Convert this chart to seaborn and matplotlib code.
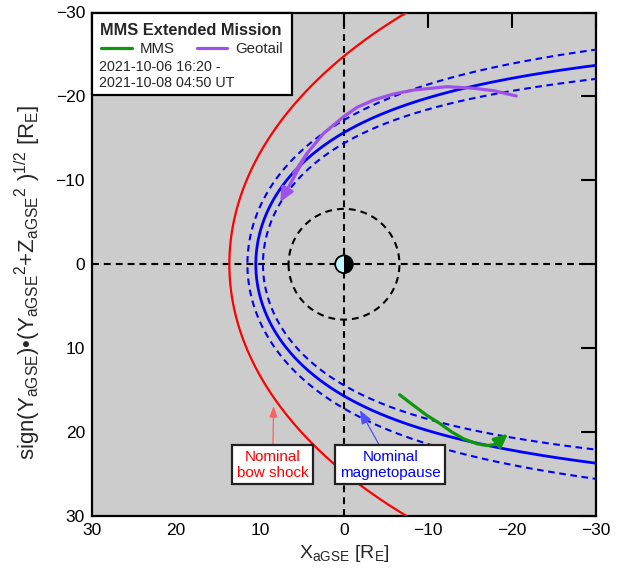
import numpy as np
import pandas as pd
import matplotlib
matplotlib.use("Agg")
import matplotlib.pyplot as plt
import matplotlib.transforms as mtransforms
from matplotlib.patches import Wedge, Circle, Rectangle
from matplotlib.lines import Line2D
import seaborn as sns

# ---- spacecraft tracks (aGSE, Earth radii) ----
mms_x = [-6.62, -8.29, -9.88, -11.46, -12.86, -14.24, -15.83, -17.02, -18.01, -18.81, -19.52]
mms_r = [15.55, 16.83, 18.02, 19.01, 20.01, 20.80, 21.40, 21.60, 21.48, 21.00, 20.20]

geotail_x = [-20.51, -17.81, -15.43, -12.26, -8.29, -5.90, -3.52, -1.55, 0.05, 2.43, 4.40, 5.99, 7.58]
geotail_r = [-20.05, -20.68, -20.97, -21.16, -20.76, -20.29, -19.57, -18.70, -17.58, -15.60, -13.21, -10.82, -7.43]

# ---- nominal boundary models ----
mp_r0 = 10.5          # magnetopause standoff distance
mp_alpha = 0.58       # magnetopause flaring exponent
mp_outer = 11.5       # dashed envelope, outer standoff distance
mp_inner = 9.65       # dashed envelope, inner standoff distance
bs_nose = 13.65       # bow shock nose distance
bs_a = 49.45          # bow shock conic coefficients: r^2 = a*d + b*d^2, d = nose - x
bs_b = -0.322
geo_radius = 6.6      # geosynchronous orbit

axis_ticks = [30, 20, 10, 0, -10, -20, -30]
title_text = "MMS Extended Mission"
date_lines = ["2021-10-06 16:20 -", "2021-10-08 04:50 UT"]

MMS_COLOR = "#0f960f"
GEO_COLOR = "#9d52ea"

sns.set_style("white")
plt.rcParams["font.family"] = ["Liberation Sans", "DejaVu Sans"]
plt.rcParams["mathtext.fontset"] = "custom"
plt.rcParams["mathtext.rm"] = "Liberation Sans"
plt.rcParams["mathtext.it"] = "Liberation Sans:italic"
plt.rcParams["mathtext.bf"] = "Liberation Sans:bold"

W, H = 619, 575
fig = plt.figure(figsize=(W / 100, H / 100), dpi=100)
ax = fig.add_axes([92 / W, 1 - 516 / H, 504 / W, 503.5 / H])
ax.set_facecolor("#cccccc")
# pixel coordinates measured from the top-left corner of the figure
P = mtransforms.Affine2D().scale(1 / W, -1 / H).translate(0, 1) + fig.transFigure


def shue(r0, alpha):
    th = np.linspace(-2.75, 2.75, 800)
    r = r0 * (2.0 / (1.0 + np.cos(th))) ** alpha
    return pd.DataFrame({"x": r * np.cos(th), "y": r * np.sin(th)})


def bow_shock():
    yy = np.linspace(-36, 36, 600)
    d = (bs_a - np.sqrt(bs_a ** 2 + 4 * bs_b * yy ** 2)) / (-2 * bs_b)
    return pd.DataFrame({"x": bs_nose - d, "y": yy})


common = dict(sort=False, estimator=None, ax=ax, legend=False)

# reference axes and geosynchronous orbit
blk_dash = (0, (3.3, 2.4))
ax.axhline(0, color="black", lw=1.5, ls=blk_dash, zorder=2)
ax.axvline(0, color="black", lw=1.5, ls=blk_dash, zorder=2)
ph = np.linspace(0, 2 * np.pi, 400)
sns.lineplot(x=geo_radius * np.cos(ph), y=geo_radius * np.sin(ph), color="black",
             lw=1.5, linestyle=blk_dash, zorder=2, **common)

# boundaries
bs = bow_shock()
sns.lineplot(data=bs, x="x", y="y", color="#ff0000", lw=1.6, zorder=3, **common)
for r0 in (mp_outer, mp_inner):
    env = shue(r0, mp_alpha)
    sns.lineplot(data=env, x="x", y="y", color="#0000ff", lw=1.5,
                 linestyle=(0, (3.2, 2.2)), zorder=3, **common)
mp = shue(mp_r0, mp_alpha)
sns.lineplot(data=mp, x="x", y="y", color="#0000ff", lw=2.0, zorder=3, **common)

# spacecraft tracks with direction arrows
head = "-|>,head_length=0.8,head_width=0.38"
sns.lineplot(x=mms_x[:-1], y=mms_r[:-1], color=MMS_COLOR, lw=2.3, zorder=5, **common)
ax.annotate("", xy=(mms_x[-1], mms_r[-1]), xytext=(mms_x[-3], mms_r[-3]),
            arrowprops=dict(arrowstyle=head, color=MMS_COLOR, lw=2.3,
                            shrinkA=0, shrinkB=0), zorder=5)
sns.lineplot(x=geotail_x[:-1], y=geotail_r[:-1], color=GEO_COLOR, lw=2.3, zorder=5, **common)
ax.annotate("", xy=(geotail_x[-1], geotail_r[-1]), xytext=(geotail_x[-3], geotail_r[-3]),
            arrowprops=dict(arrowstyle=head, color=GEO_COLOR, lw=2.3,
                            shrinkA=0, shrinkB=0), zorder=5)

# Earth: day side light, night side dark
ax.add_patch(Wedge((0, 0), 1.05, -90, 90, facecolor="#bff8ff", edgecolor="none", zorder=6))
ax.add_patch(Wedge((0, 0), 1.05, 90, 270, facecolor="black", edgecolor="none", zorder=6))
ax.add_patch(Circle((0, 0), 1.05, facecolor="none", edgecolor="black", lw=1.3, zorder=7))

# boundary labels
box = dict(boxstyle="square,pad=0.3", facecolor="white", edgecolor="#222222", lw=1.6)
ax.annotate("Nominal\nbow shock", xy=(8.38, 16.9), xytext=(8.5, 23.9),
            ha="center", va="center", color="#ff0000", fontsize=11, bbox=box,
            arrowprops=dict(arrowstyle="-|>,head_length=0.6,head_width=0.22",
                            color="#ff6060", lw=0.9, shrinkA=0, shrinkB=0), zorder=8)
ax.annotate("Nominal\nmagnetopause", xy=(-1.9, 17.4), xytext=(-5.5, 23.9),
            ha="center", va="center", color="#0000ff", fontsize=11, bbox=box,
            arrowprops=dict(arrowstyle="-|>,head_length=0.75,head_width=0.3",
                            color="#4f4fff", lw=0.9, shrinkA=0, shrinkB=0), zorder=8)

# limits, ticks, spines
ax.set_xlim(30, -30)
ax.set_ylim(30, -30)
ax.set_xticks(axis_ticks)
ax.set_yticks(axis_ticks)
ax.tick_params(direction="in", length=11, width=1.5, top=True, right=True,
               labelsize=12.5, pad=5, colors="black")
for s in ax.spines.values():
    s.set_linewidth(1.6)
    s.set_color("black")

ax.set_xlabel(r"X$_{\mathrm{aGSE}}$ [R$_{\mathrm{E}}$]", fontsize=14, labelpad=4)
ax.set_ylabel(r"sign(Y$_{\mathrm{aGSE}}$)•(Y$_{\mathrm{aGSE}}$$^{2}$+Z$_{\mathrm{aGSE}}$$^{2}$ )$^{1/2}$ [R$_{\mathrm{E}}$]",
              fontsize=16)
ax.yaxis.set_label_coords(-0.097, 0.465)

# legend panel
ax.add_patch(Rectangle((92.3, 95), 199.4, -81.7, transform=P, facecolor="white",
                       edgecolor="black", lw=1.6, zorder=9, clip_on=False))
fig.text(100, 35, title_text, transform=P, fontsize=11.8, fontweight="bold",
         va="baseline", ha="left", zorder=10)
fig.add_artist(Line2D([101, 132], [48.3, 48.3], transform=P, color=MMS_COLOR, lw=2.3, zorder=10))
fig.text(140, 53.3, "MMS", transform=P, fontsize=10.8, va="baseline", ha="left", zorder=10)
fig.add_artist(Line2D([196.7, 227], [48.3, 48.3], transform=P, color=GEO_COLOR, lw=2.3, zorder=10))
fig.text(235.7, 53.3, "Geotail", transform=P, fontsize=10.8, va="baseline", ha="left", zorder=10)
fig.text(99, 71, date_lines[0], transform=P, fontsize=10.3, va="baseline", ha="left", zorder=10)
fig.text(99, 87.3, date_lines[1], transform=P, fontsize=10.3, va="baseline", ha="left", zorder=10)

fig.savefig("out.png", dpi=100)
